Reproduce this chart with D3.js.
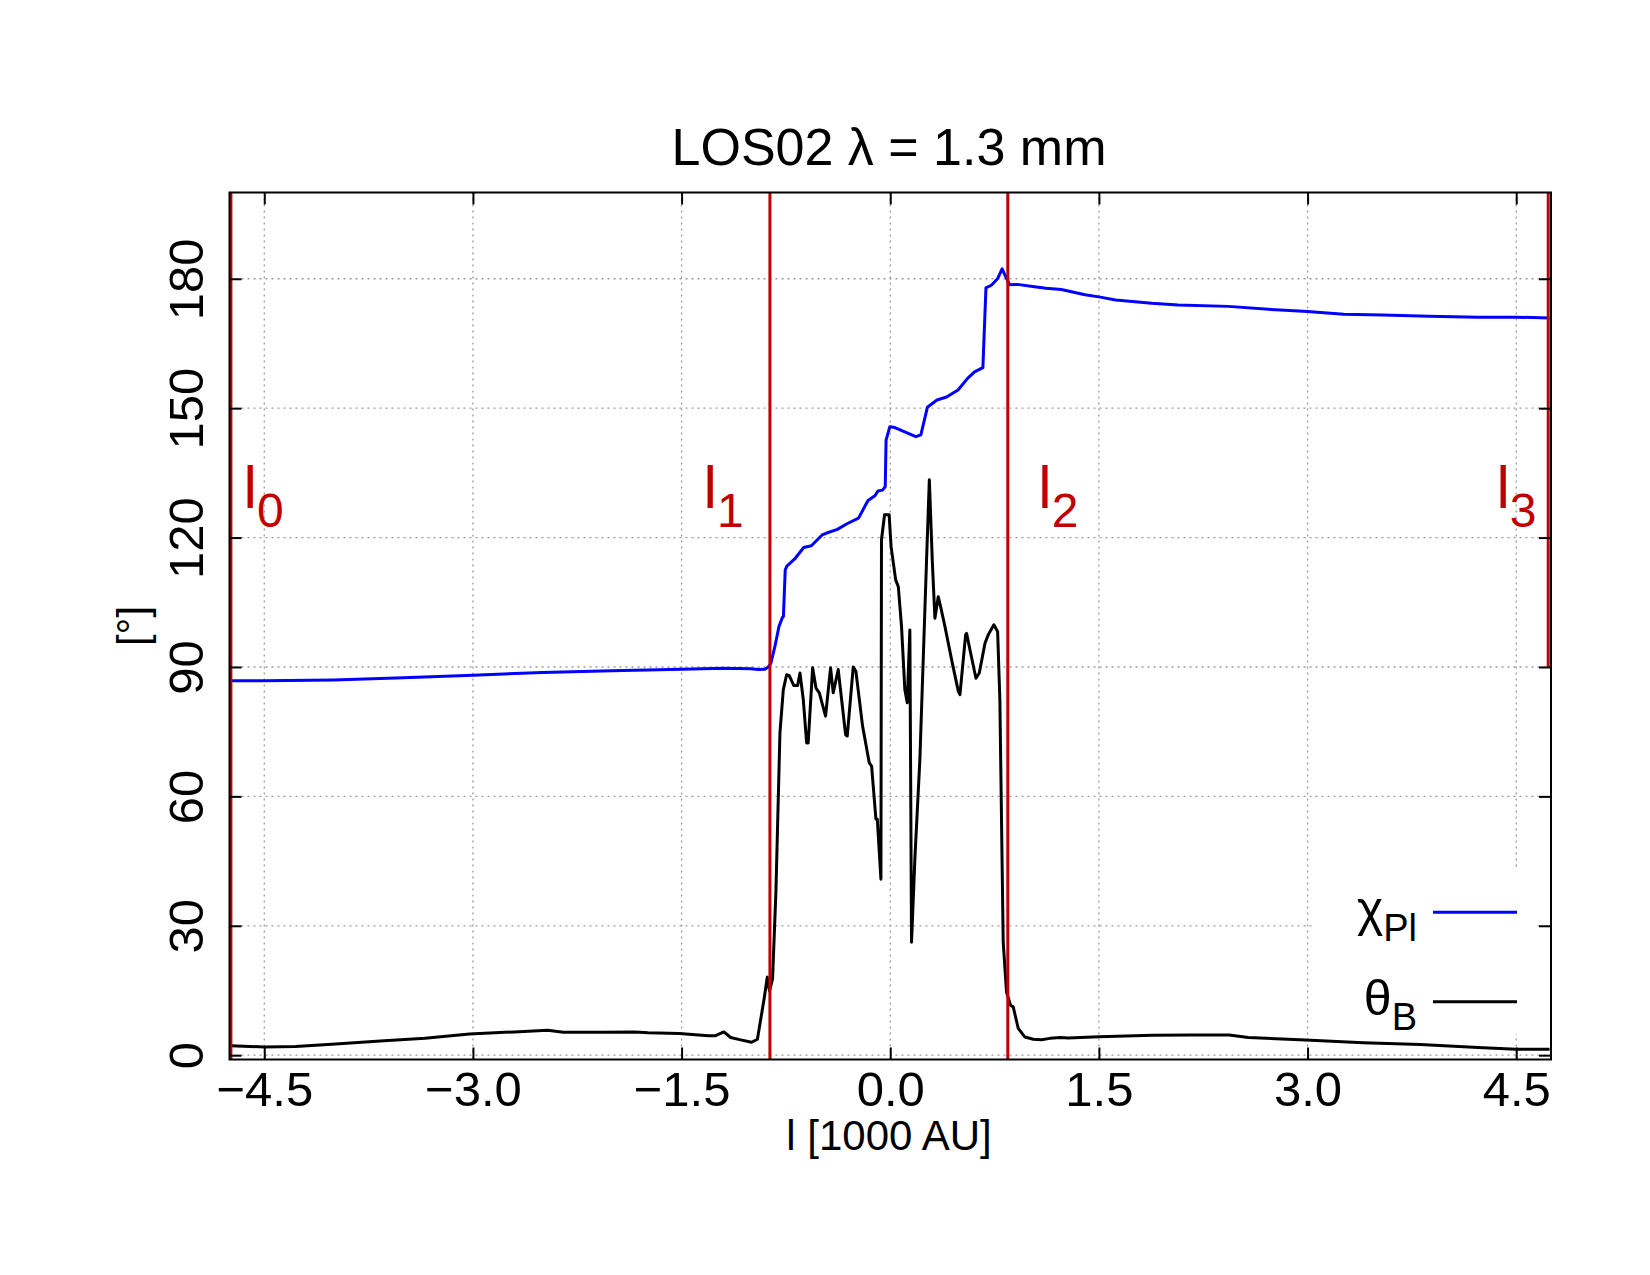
<!DOCTYPE html>
<html>
<head>
<meta charset="utf-8">
<script src="https://cdn.jsdelivr.net/npm/d3@7"></script>
<style>
body { margin: 0; background: #fff; }
text { font-family: 'Liberation Sans', Arial, Helvetica, sans-serif; }
</style>
</head>
<body>
<div id="chart"></div>
<script>
// chi_Pl (blue) and theta_B (black) along the line of sight
var chiX = [-4.74, -4.5, -4.0, -3.5, -3.0, -2.5, -2.0, -1.5, -1.2, -1.0, -0.95, -0.9, -0.877, -0.858, -0.829, -0.80, -0.775, -0.768,
	-0.755, -0.743, -0.683, -0.622, -0.567, -0.49, -0.462, -0.38, -0.311, -0.228, -0.16, -0.11, -0.088, -0.055, -0.036, -0.03,
	-0.003, 0.033, 0.184, 0.22, 0.267, 0.336, 0.405, 0.487, 0.556, 0.606, 0.666, 0.688, 0.727, 0.771, 0.804, 0.831, 0.859,
	0.914, 1.024, 1.12, 1.23, 1.40, 1.5, 1.62, 1.88, 2.07, 2.43, 2.77, 3.0, 3.26, 3.54, 3.87, 4.23, 4.5, 4.74]
var chiY = [86.8, 86.8, 87.0, 87.5, 88.1, 88.7, 89.1, 89.5, 89.7, 89.6, 89.4, 89.5, 90.0, 90.9, 94.8, 99.4, 101.5, 101.7,
	112.5, 113.4, 115.2, 117.7, 118.1, 120.6, 121.0, 121.9, 123.2, 124.5, 128.6, 129.7, 130.8, 131.0, 131.8, 142.6,
	145.7, 145.5, 143.4, 143.8, 150.2, 151.9, 152.6, 154.2, 156.9, 158.4, 159.4, 177.9, 178.5, 180.0, 182.3, 180.4, 178.6,
	178.7, 178.2, 177.8, 177.5, 176.3, 175.8, 175.1, 174.3, 173.9, 173.6, 172.8, 172.4, 171.8, 171.6, 171.3, 171.1, 171.1, 170.9]

var thetaX = [-4.74, -4.5, -4.275, -3.987, -3.666, -3.345, -3.024, -2.703, -2.463, -2.35, -2.062, -1.837, -1.741, -1.516, -1.308,
	-1.26, -1.196, -1.147, -1.083, -0.997, -0.955, -0.907, -0.884, -0.868, -0.846, -0.822, -0.793, -0.769, -0.745, -0.726,
	-0.693, -0.666, -0.649, -0.625, -0.601, -0.59, -0.558, -0.534, -0.51, -0.465, -0.429, -0.41, -0.374, -0.321, -0.309,
	-0.266, -0.247, -0.199, -0.151, -0.134, -0.103, -0.093, -0.067, -0.063, -0.041, -0.008, 0.006, 0.039, 0.058, 0.081,
	0.105, 0.122, 0.141, 0.153, 0.177, 0.213, 0.261, 0.281, 0.302, 0.321, 0.345, 0.362, 0.393, 0.441, 0.489, 0.501, 0.542,
	0.549, 0.573, 0.616, 0.64, 0.681, 0.705, 0.745, 0.772, 0.788, 0.812, 0.836, 0.865, 0.884, 0.92, 0.968, 1.028, 1.087,
	1.148, 1.225, 1.28, 1.5, 1.885, 2.16, 2.436, 2.574, 2.986, 3.4, 3.81, 4.225, 4.5, 4.74]
var thetaY = [2.2, 1.9, 2.0, 2.6, 3.3, 3.9, 4.9, 5.4, 5.8, 5.3, 5.3, 5.4, 5.2, 5.0, 4.5,
	4.5, 5.4, 4.1, 3.6, 3.0, 3.7, 13.0, 18.1, 14.9, 17.7, 37.8, 74.7, 84.7, 88.2, 88.0,
	85.7, 85.7, 88.6, 82.4, 72.4, 72.4, 89.8, 85.1, 84.0, 78.6, 89.8, 84.0, 89.4, 74.3, 74.0,
	90.0, 89.0, 76.3, 67.8, 67.0, 54.7, 54.7, 40.8, 119.5, 125.3, 125.3, 117.9, 110.2, 108.6, 99.4,
	84.7, 81.7, 98.6, 26.2, 45.5, 68.6, 114.8, 133.4, 114.8, 101.3, 106.3, 104.0, 99.4, 91.7, 84.4, 83.6, 97.5,
	97.8, 94.0, 87.4, 88.6, 95.5, 97.5, 99.8, 98.2, 82.4, 26.2, 14.6, 11.6, 11.2, 6.2, 4.2, 3.7, 3.6,
	3.9, 4.1, 4.0, 4.3, 4.6, 4.7, 4.7, 4.1, 3.5, 2.9, 2.5, 1.8, 1.4, 1.4]

// region boundaries l0..l3
var bounds = [-4.74, -0.865, 0.845, 4.73]
var boundsFrom = [-1, -1, -1, 90]
var boundSubs = ['0', '1', '2', '3']

var xTicks = [-4.5, -3.0, -1.5, 0.0, 1.5, 3.0, 4.5]
var yTicks = [0, 30, 60, 90, 120, 150, 180]

var legendMain = ['\u03c7', '\u03b8']
var legendSub = ['Pl', 'B']
var legendColors = ['#0000ff', '#000000']

var W = 1650, H = 1275,
	margins = {top: 192.5, right: 99, bottom: 215.5, left: 229.5},
	width = W - margins.left - margins.right,
	height = H - margins.top - margins.bottom,
	red = '#c00000'

var svg = d3.select('#chart').append('svg')
	.attr('width', W)
	.attr('height', H)

svg.append('text')
	.attr('x', 889)
	.attr('y', 165)
	.attr('text-anchor', 'middle')
	.attr('font-size', 52)
	.text('LOS02 \u03bb = 1.3 mm')

var g = svg.append('g')
	.attr('transform', 'translate(' + margins.left + ',' + margins.top + ')')

var x = d3.scaleLinear().domain([-4.75, 4.75]).range([0, width])
var y = d3.scaleLinear().domain([-1, 200]).range([height, 0])

g.append('defs').append('clipPath')
	.attr('id', 'plotclip')
	.append('rect')
	.attr('width', width)
	.attr('height', height)

// grid
g.append('g').selectAll('line').data(xTicks).join('line')
	.attr('x1', d => x(d)).attr('x2', d => x(d))
	.attr('y1', 0).attr('y2', height)
	.attr('stroke', '#9a9a9a').attr('stroke-width', 1.3).attr('stroke-dasharray', '2,4')
g.append('g').selectAll('line').data(yTicks).join('line')
	.attr('x1', 0).attr('x2', width)
	.attr('y1', d => y(d)).attr('y2', d => y(d))
	.attr('stroke', '#9a9a9a').attr('stroke-width', 1.3).attr('stroke-dasharray', '2,4')

// data
var line = d3.line().x(d => x(d[0])).y(d => y(d[1]))
var plot = g.append('g').attr('clip-path', 'url(#plotclip)')

plot.append('path')
	.datum(d3.zip(chiX, chiY))
	.attr('d', line)
	.attr('fill', 'none')
	.attr('stroke', legendColors[0])
	.attr('stroke-width', 3)
	.attr('stroke-linejoin', 'round')

plot.append('path')
	.datum(d3.zip(thetaX, thetaY))
	.attr('d', line)
	.attr('fill', 'none')
	.attr('stroke', legendColors[1])
	.attr('stroke-width', 3)
	.attr('stroke-linejoin', 'round')

// boundaries
plot.selectAll('.bound').data(bounds).join('line')
	.attr('class', 'bound')
	.attr('x1', d => x(d)).attr('x2', d => x(d))
	.attr('y1', (d, i) => y(boundsFrom[i])).attr('y2', y(200))
	.attr('stroke', red)
	.attr('stroke-width', 3)

var labelShift = [12.7, -66.3, 30.5, -51.7]
var blabel = g.selectAll('.blabel').data(bounds).join('text')
	.attr('class', 'blabel')
	.attr('x', (d, i) => x(d) + labelShift[i])
	.attr('y', 315.5)
	.attr('fill', red)
	.attr('font-size', 60)
blabel.append('tspan').text('l')
blabel.append('tspan')
	.attr('font-size', 48)
	.attr('dy', 19)
	.text((d, i) => boundSubs[i])

// key (opaque)
var key = svg.append('g')
key.append('rect')
	.attr('x', 1312).attr('y', 868)
	.attr('width', 225).attr('height', 166)
	.attr('fill', '#fff')
legendMain.forEach(function(m, i) {
	var yy = 925.7 + i * 89.5
	var t = key.append('text')
		.attr('x', 1417)
		.attr('y', yy)
		.attr('text-anchor', 'end')
		.attr('font-size', 50)
	t.append('tspan').text(m)
	t.append('tspan').attr('font-size', 38).attr('dy', 15).text(legendSub[i])
	key.append('line')
		.attr('x1', 1433).attr('x2', 1517)
		.attr('y1', yy - 13.5).attr('y2', yy - 13.5)
		.attr('stroke', legendColors[i])
		.attr('stroke-width', 3)
})

// axes
var fmt = d3.format('.1f')
var xAxis = g.append('g')
	.attr('transform', 'translate(0,' + height + ')')
	.call(d3.axisBottom(x).tickValues(xTicks).tickFormat(fmt).tickSize(-12).tickPadding(12))
g.append('g')
	.call(d3.axisTop(x).tickValues(xTicks).tickFormat('').tickSize(-12))
var yAxis = g.append('g')
	.call(d3.axisLeft(y).tickValues(yTicks).tickSize(-12))
g.append('g')
	.attr('transform', 'translate(' + width + ',0)')
	.call(d3.axisRight(y).tickValues(yTicks).tickFormat('').tickSize(-12))

g.selectAll('.domain').remove()
g.selectAll('.tick line').attr('stroke', '#000').attr('stroke-width', 2)
g.selectAll('.tick text').attr('fill', '#000').attr('font-family', null).attr('font-size', 49)

yAxis.selectAll('.tick text')
	.attr('x', null)
	.attr('dy', null)
	.attr('text-anchor', 'middle')
	.attr('transform', 'translate(-26.5,0) rotate(-90)')

g.append('rect')
	.attr('width', width)
	.attr('height', height)
	.attr('fill', 'none')
	.attr('stroke', '#000')
	.attr('stroke-width', 2)

svg.append('text')
	.attr('x', 889)
	.attr('y', 1150)
	.attr('text-anchor', 'middle')
	.attr('font-size', 42)
	.text('l [1000 AU]')

svg.append('text')
	.attr('transform', 'translate(147,626) rotate(-90)')
	.attr('text-anchor', 'middle')
	.attr('font-size', 42)
	.text('[\u00b0]')
</script>
</body>
</html>
